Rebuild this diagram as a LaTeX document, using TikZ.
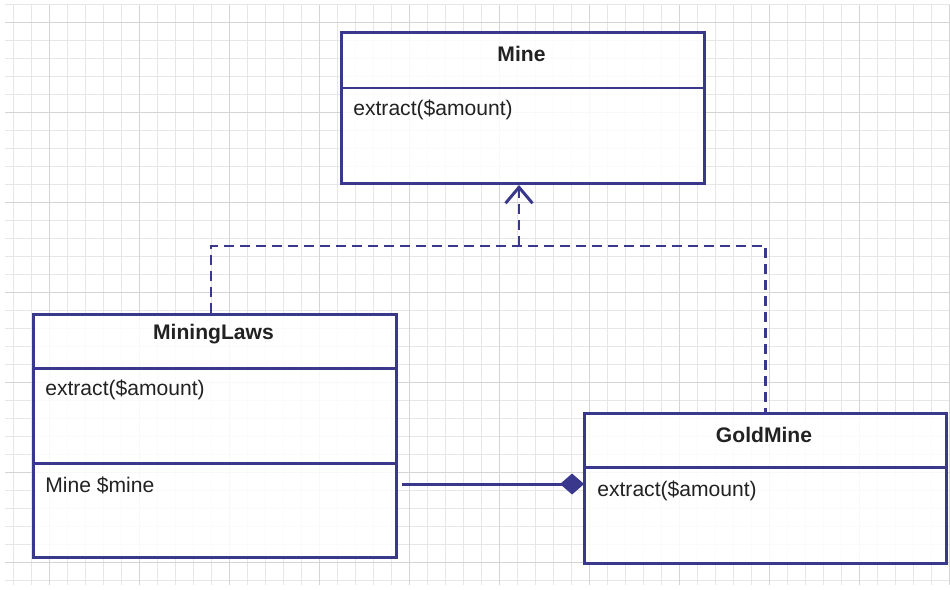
\documentclass[tikz,border=0pt]{standalone}
\usepackage{fontspec}
\setmainfont{Liberation Sans}
\usetikzlibrary{arrows.meta}
\definecolor{umlblue}{RGB}{58,56,140}
\definecolor{gridminor}{RGB}{230,230,230}
\definecolor{gridmajor}{RGB}{212,212,212}
\definecolor{textgray}{RGB}{34,34,34}
\tikzset{
  classbox/.style={draw=umlblue, line width=1.7pt, fill=white, fill opacity=.85, text opacity=1, anchor=north west, inner sep=0pt},
  classtitle/.style={font=\fontsize{12}{14}\selectfont\bfseries, text=textgray, inner sep=0pt},
  classtext/.style={font=\fontsize{12}{14}\selectfont, text=textgray, anchor=west, inner sep=0pt},
  divider/.style={draw=umlblue, line width=1.7pt},
  realize/.style={draw=umlblue, line width=1.7pt, dash pattern=on 5.7pt off 3.4pt},
  compose/.style={draw=umlblue, line width=1.7pt},
}
\begin{document}
\begin{tikzpicture}[x=0.02cm, y=-0.02cm]
    \useasboundingbox (0,0) rectangle (950,589);

    % grid
    \foreach \i in {0,...,52}
      \draw [gridminor, line width=.8pt] (13.3+18*\i,5) -- (13.3+18*\i,585);
    \foreach \j in {0,...,32}
      \draw [gridminor, line width=.8pt] (5,4.7+18*\j) -- (950,4.7+18*\j);
    \foreach \i in {0,...,10}
      \draw [gridmajor, line width=.8pt] (49.3+90*\i,5) -- (49.3+90*\i,585);
    \foreach \j in {0,...,6}
      \draw [gridmajor, line width=.8pt] (5,22.7+90*\j) -- (950,22.7+90*\j);

    % Mine
    \node [classbox, minimum width=7.26cm, minimum height=3.02cm] (mine) at (340,31) {};
    \draw [divider] (mine.north west) ++(0,57) -- ++(363,0);
    \node [classtitle] (minetitle) at (521.5,54) {Mine};
    \node [classtext] (mineop) at (353,110) {extract(\$amount)};

    % MiningLaws
    \node [classbox, minimum width=7.26cm, minimum height=4.86cm] (laws) at (32,313) {};
    \draw [divider] (laws.north west) ++(0,55) -- ++(363,0);
    \draw [divider] (laws.north west) ++(0,150) -- ++(363,0);
    \node [classtitle] (lawstitle) at (213.5,334) {MiningLaws};
    \node [classtext] (lawsop) at (45,390) {extract(\$amount)};
    \node [classtext] (lawsattr) at (45,485) {Mine \$mine};

    % GoldMine
    \node [classbox, minimum width=7.24cm, minimum height=3cm] (gold) at (583,412) {};
    \draw [divider] (gold.north west) ++(0,55) -- ++(362,0);
    \node [classtitle] (goldtitle) at (764,435) {GoldMine};
    \node [classtext] (goldop) at (597,491) {extract(\$amount)};

    % realization
    \coordinate (merge) at (519,246);
    \draw [realize] (laws.north -| 211,0) |- (merge) -| (gold.north);
    \draw [realize, -{Straight Barb[length=3.2mm, width=5.4mm]}] (merge) -- (mine.south -| merge);

    % composition
    \draw [compose, {Diamond[length=4.8mm, width=4.2mm]}-, shorten <=-.6pt, shorten >=2.3pt]
      (gold.west |- 0,484) -- (laws.east |- 0,484);

  \end{tikzpicture}
\end{document}
